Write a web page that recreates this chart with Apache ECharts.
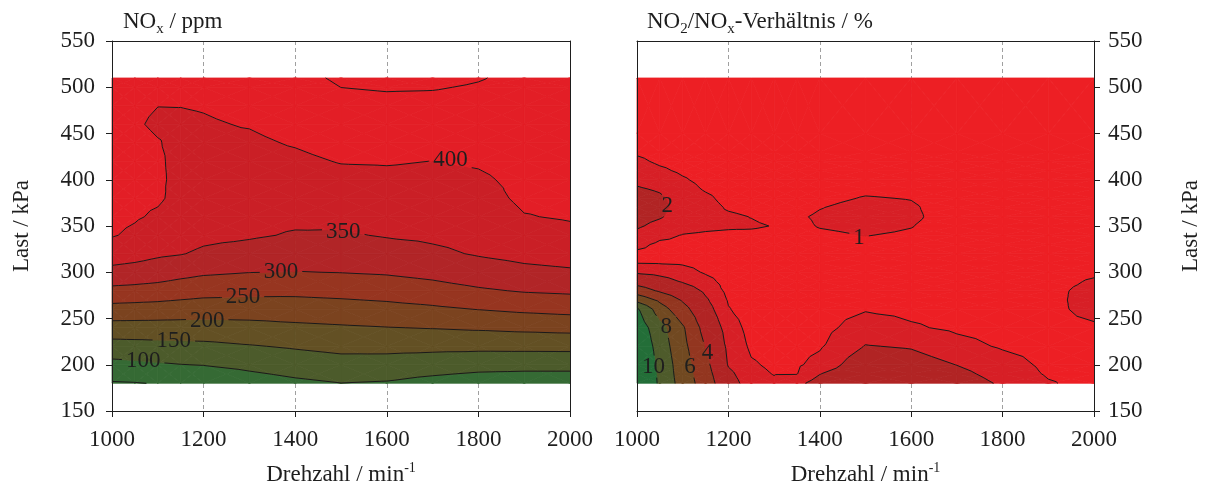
<!DOCTYPE html>
<html>
<head>
<meta charset="utf-8">
<script src="https://cdn.jsdelivr.net/npm/echarts@6.0.0/dist/echarts.min.js"></script>
<style>
html,body{margin:0;padding:0;background:#ffffff;}
#chart{width:1206px;height:488px;}
</style>
</head>
<body>
<div id="chart"></div>
<script>
// ---------------- DATA ----------------
// Left panel: NOx / ppm  (rows = load in kPa, columns = speed in 1/min)
const speedsNOx = [1000,1050,1100,1150,1200,1300,1400,1500,1600,1700,1800,1900,2000];
const loadsNOx  = [180,200,220,240,260,280,300,320,340,360,380,400,420,440,460,480,500,510];
const noxValues = [
  [46,48,52,55,60,77,90.5,99.5,96,84,73.5,70,70],
  [86,90,95,99,101.5,112,123,131.7,130,123.5,117.7,116,116],
  [131,133,135,137,139,147,155,163,164,162.7,162,163,163.7],
  [180,180,180,180,180,184,190,194.5,198.6,202,206.3,211,214.9],
  [233,231,229,226,223,223,225.4,229.5,234.8,242,251.1,259,264.9],
  [287,284,280,273,267,262.5,261.5,265.5,271,280.8,293.6,303.6,308],
  [337,332,325,315,307,300.7,298.7,301,305,314,328.3,339.3,344.5],
  [372,366,357,352,343,333,322.8,323,331,341.7,353.5,362,367.4],
  [403,392,376,368,360,355,346.4,345.5,353,357.4,363.6,379,388],
  [410,404,394.4,381,372,362,359,361,365.6,368,373.7,398,404],
  [415,408,405,389,380,372,370,375,378,378.6,383.8,408,410],
  [418,410,405,392,385,380,381,388,390.6,389,393.9,410,414],
  [420,410,404,392,389,387,392,402,403,399.7,404.3,415,418],
  [420,408,401.5,393,393,394,403,414,415.6,412.8,415,420,422],
  [418,403,396,395,397,402,412,426,428,426,425.6,426,426],
  [416,405,400.3,400.5,402,408,422,438,440.6,439,436,432,430],
  [415,410,405,407,408,413,432,450.2,453,452.3,447,438,434],
  [415,412,408,410,411,415,438,456,459,459,452.2,441,436]
];
const noxLevels = [50,100,150,200,250,300,350,400,450];
const noxColors = ['#356a34','#356a34','#4c5b2b','#635024','#7b431f','#973520','#b12527','#ca1f26','#e31e26','#e31e26'];
const noxLabels = [[1068,204,'100'],[1135,226,'150'],[1208,247,'200'],[1286,273,'250'],[1369,300,'300'],[1505,344,'350'],[1739,421,'400']];

// Right panel: NO2/NOx ratio / %
const speedsRatio = [1000,1050,1100,1150,1200,1250,1300,1350,1400,1500,1600,1700,1800,1900,2000];
const loadsRatio  = [180,190,200,220,240,260,270,280,290,300,310,320,330,340,350,360,370,380,390,400,410,420,430,450,510];
const ratioValues = [
  [13.0,9.6,7.2,5.0,2.6,1.4,1.15,1.7,2.5,3.2,3.0,2.6,1.85,1.08,0.7],
  [12.8,9.5,7.05,4.75,2.3,1.25,0.97,0.98,1.97,3.0,2.8,2.3,1.6,0.9,0.7],
  [12.5,9.4,6.95,4.5,1.9,1.1,0.85,0.88,1.3,2.8,2.55,1.98,1.4,0.8,0.7],
  [12.0,9.1,6.6,3.9,1.7,0.85,0.7,0.75,0.9,2.05,1.9,1.3,0.9,0.7,0.7],
  [11.3,8.7,6.25,3.23,1.45,0.7,0.65,0.65,0.7,1.45,1.1,0.85,0.7,0.7,0.85],
  [10.3,6.94,4.67,2.53,1.05,0.6,0.6,0.6,0.65,0.93,0.8,0.7,0.7,0.75,1.3],
  [7.4,5.6,3.8,2.18,0.92,0.6,0.6,0.6,0.6,0.75,0.7,0.65,0.65,0.75,1.35],
  [5.0,3.76,2.8,1.77,0.75,0.6,0.6,0.6,0.6,0.65,0.6,0.6,0.6,0.75,1.3],
  [3.23,2.55,1.89,1.32,0.65,0.6,0.6,0.6,0.6,0.6,0.6,0.6,0.6,0.7,1.1],
  [1.83,1.62,1.35,0.9,0.6,0.6,0.6,0.6,0.6,0.6,0.6,0.6,0.6,0.65,0.85],
  [0.98,0.95,0.9,0.75,0.6,0.6,0.6,0.6,0.6,0.6,0.6,0.6,0.6,0.6,0.7],
  [0.85,0.8,0.75,0.7,0.6,0.6,0.6,0.6,0.6,0.6,0.6,0.6,0.6,0.6,0.6],
  [1.2,0.85,0.85,0.8,0.7,0.7,0.65,0.6,0.65,0.85,0.75,0.6,0.6,0.6,0.6],
  [1.7,1.19,0.97,0.9,0.85,0.8,0.75,0.7,0.85,1.02,0.9,0.6,0.6,0.6,0.6],
  [2.15,1.67,1.25,1.15,1.1,1.1,0.97,0.8,1.05,1.2,1.03,0.6,0.6,0.6,0.6],
  [2.4,2.1,1.5,1.3,1.15,0.98,0.8,0.9,1.1,1.3,1.15,0.6,0.6,0.6,0.6],
  [2.5,2.25,1.65,1.35,0.9,0.75,0.7,0.75,0.97,1.25,1.1,0.6,0.6,0.6,0.6],
  [2.4,2.15,1.6,1.2,0.7,0.65,0.6,0.65,0.8,1.05,0.97,0.6,0.6,0.6,0.6],
  [2.1,1.89,1.4,0.9,0.65,0.6,0.6,0.6,0.7,0.85,0.8,0.6,0.6,0.6,0.6],
  [1.79,1.52,1.1,0.75,0.6,0.6,0.6,0.6,0.6,0.6,0.6,0.6,0.6,0.6,0.6],
  [1.48,1.15,0.85,0.65,0.6,0.6,0.6,0.6,0.6,0.6,0.6,0.6,0.6,0.6,0.6],
  [1.18,0.85,0.7,0.6,0.6,0.6,0.6,0.6,0.6,0.6,0.6,0.6,0.6,0.6,0.6],
  [0.88,0.7,0.6,0.6,0.6,0.6,0.6,0.6,0.6,0.6,0.6,0.6,0.6,0.6,0.6],
  [0.6,0.6,0.6,0.6,0.6,0.6,0.6,0.6,0.6,0.6,0.6,0.6,0.6,0.6,0.6],
  [0.55,0.55,0.55,0.55,0.55,0.55,0.55,0.55,0.55,0.55,0.55,0.55,0.55,0.55,0.55]
];
const ratioLevels = [1,2,4,6,8,10];
const ratioColors = ['#ed1f24','#d71f26','#b12424','#933620','#714921','#4e5b2b','#236e38'];
const ratioLabels = [[1036,198,'10'],[1064,241,'8'],[1116,198,'6'],[1154,213,'4'],[1066,372,'2'],[1486,337,'1']];

// ---------------- HELPERS ----------------
const FONT = '"Liberation Serif","Times New Roman",serif';
const TXT = '#1e1e1e';
const FS = 23;

function buildCells(speeds, loads, vals){
  const out = [];
  for (let j = 0; j < loads.length - 1; j++) {
    for (let i = 0; i < speeds.length - 1; i++) {
      out.push([speeds[i], loads[j], speeds[i+1], loads[j+1],
                vals[j][i], vals[j][i+1], vals[j+1][i+1], vals[j+1][i]]);
    }
  }
  return out;
}

function clipPoly(poly, t, keepAbove){
  const out = [];
  const n = poly.length;
  for (let i = 0; i < n; i++) {
    const a = poly[i], b = poly[(i+1) % n];
    const ia = keepAbove ? a[2] >= t : a[2] <= t;
    const ib = keepAbove ? b[2] >= t : b[2] <= t;
    if (ia) out.push(a);
    if (ia !== ib) {
      const s = (t - a[2]) / (b[2] - a[2]);
      out.push([a[0] + s*(b[0]-a[0]), a[1] + s*(b[1]-a[1]), t]);
    }
  }
  return out;
}

function cellTris(api){
  const x0 = api.value(0), y0 = api.value(1), x1 = api.value(2), y1 = api.value(3);
  const vs = [api.value(4), api.value(5), api.value(6), api.value(7)];
  const P = [[x0,y0],[x1,y0],[x1,y1],[x0,y1]].map(function(p,k){
    const c = api.coord(p); return [c[0], c[1], vs[k]];
  });
  const C = [(P[0][0]+P[2][0])/2, (P[0][1]+P[2][1])/2, (vs[0]+vs[1]+vs[2]+vs[3])/4];
  const tris = [];
  for (let t = 0; t < 4; t++) tris.push([P[t], P[(t+1)%4], C]);
  return tris;
}

function makeFill(levels, colors){
  return function(params, api){
    const tris = cellTris(api);
    const children = [];
    tris.forEach(function(tri){
      for (let b = 0; b <= levels.length; b++) {
        let poly = tri;
        if (b > 0) poly = clipPoly(poly, levels[b-1], true);
        if (poly.length >= 3 && b < levels.length) poly = clipPoly(poly, levels[b], false);
        if (poly.length >= 3) {
          children.push({type:'polygon', silent:true,
            shape:{points: poly.map(function(p){return [p[0],p[1]];})},
            style:{fill:colors[b], stroke:colors[b], lineWidth:0.8}});
        }
      }
    });
    return {type:'group', children: children};
  };
}

function segBox(p, q, b){
  let t0 = 0, t1 = 1;
  const dx = q[0]-p[0], dy = q[1]-p[1];
  const P = [-dx, dx, -dy, dy];
  const Q = [p[0]-b[0], b[2]-p[0], p[1]-b[1], b[3]-p[1]];
  for (let i = 0; i < 4; i++) {
    if (P[i] === 0) { if (Q[i] < 0) return null; }
    else {
      const r = Q[i] / P[i];
      if (P[i] < 0) { if (r > t1) return null; if (r > t0) t0 = r; }
      else { if (r < t0) return null; if (r < t1) t1 = r; }
    }
  }
  return [t0, t1];
}

function cutSegment(p, q, boxes){
  let intervals = [[0,1]];
  boxes.forEach(function(b){
    const cut = segBox(p, q, b);
    if (!cut) return;
    const next = [];
    intervals.forEach(function(iv){
      if (cut[1] <= iv[0] || cut[0] >= iv[1]) { next.push(iv); return; }
      if (cut[0] > iv[0]) next.push([iv[0], cut[0]]);
      if (cut[1] < iv[1]) next.push([cut[1], iv[1]]);
    });
    intervals = next;
  });
  return intervals.map(function(iv){
    return [[p[0]+iv[0]*(q[0]-p[0]), p[1]+iv[0]*(q[1]-p[1])],
            [p[0]+iv[1]*(q[0]-p[0]), p[1]+iv[1]*(q[1]-p[1])]];
  });
}

function makeLines(levels, labels){
  return function(params, api){
    const boxes = labels.map(function(l){
      const c = api.coord([l[0], l[1]]);
      const hw = String(l[2]).length * FS * 0.25 + 4;
      return [c[0]-hw, c[1]-11, c[0]+hw, c[1]+11];
    });
    const tris = cellTris(api);
    const children = [];
    tris.forEach(function(tri){
      levels.forEach(function(L){
        const pts = [];
        for (let e = 0; e < 3; e++) {
          const a = tri[e], b = tri[(e+1)%3];
          let da = a[2]-L, db = b[2]-L;
          if (da === 0) da = 1e-9;
          if (db === 0) db = 1e-9;
          if (da*db < 0) {
            const s = da/(da-db);
            pts.push([a[0]+s*(b[0]-a[0]), a[1]+s*(b[1]-a[1])]);
          }
        }
        if (pts.length === 2) {
          cutSegment(pts[0], pts[1], boxes).forEach(function(sg){
            children.push({type:'line', silent:true,
              shape:{x1:sg[0][0], y1:sg[0][1], x2:sg[1][0], y2:sg[1][1]},
              style:{stroke:'#1a1a1a', lineWidth:1}});
          });
        }
      });
    });
    return {type:'group', children: children};
  };
}

function renderLabel(params, api){
  const c = api.coord([api.value(0), api.value(1)]);
  return {type:'text', silent:true, x:c[0], y:c[1],
    style:{text: String(api.value(2)), fill:TXT, font:FS + 'px ' + FONT, align:'center', verticalAlign:'middle'}};
}

// ---------------- CHART ----------------
const chart = echarts.init(document.getElementById('chart'), null, {renderer:'canvas', width:1206, height:488});

const tickLabel = {fontFamily:FONT, fontSize:FS, color:TXT, formatter:function(v){return String(v);}};
const axisLineStyle = {color:'#1e1e1e', width:1};
const xName = '{a|Drehzahl / min}{s|-1}';
const xNameStyle = {rich:{
  a:{fontFamily:FONT, fontSize:FS, color:TXT, lineHeight:28, verticalAlign:'middle'},
  s:{fontFamily:FONT, fontSize:14, color:TXT, lineHeight:14, verticalAlign:'top'}
}};
const yNameStyle = {fontFamily:FONT, fontSize:FS, color:TXT};

function mainX(gi){
  return {gridIndex:gi, type:'value', min:1000, max:2000, interval:200, position:'bottom', z:0,
    name:xName, nameLocation:'middle', nameGap:50, nameTextStyle:xNameStyle,
    axisLine:{show:true, onZero:false, lineStyle:axisLineStyle},
    axisTick:{show:true, inside:false, length:6, lineStyle:axisLineStyle},
    axisLabel:Object.assign({show:true, margin:17, showMinLabel:true, showMaxLabel:true}, tickLabel),
    splitLine:{show:true, lineStyle:{color:'#a0a0a0', width:1, type:[4,3]}}};
}
function borderX(gi){
  return {gridIndex:gi, type:'value', min:1000, max:2000, interval:200, position:'top', z:6,
    axisLine:{show:true, onZero:false, lineStyle:axisLineStyle},
    axisTick:{show:false}, axisLabel:{show:false}, splitLine:{show:false}};
}
function mainY(gi, pos){
  return {gridIndex:gi, type:'value', min:150, max:550, interval:50, position:pos, z:6,
    name:'Last / kPa', nameLocation:'middle', nameRotate:90, nameGap: pos==='left' ? 79 : 85, nameTextStyle:yNameStyle,
    axisLine:{show:true, onZero:false, lineStyle:axisLineStyle},
    axisTick:{show:true, inside:false, length:6, lineStyle:axisLineStyle},
    axisLabel:Object.assign({show:true, margin: pos==='left' ? 17 : 14, showMinLabel:true, showMaxLabel:true}, tickLabel),
    splitLine:{show:false}};
}
function borderY(gi, pos){
  return {gridIndex:gi, type:'value', min:150, max:550, interval:50, position:pos, z:6,
    axisLine:{show:true, onZero:false, lineStyle:axisLineStyle},
    axisTick:{show:false}, axisLabel:{show:false}, splitLine:{show:false}};
}

const titleRich = {
  n:{fontFamily:FONT, fontSize:FS, fontWeight:'normal', color:TXT, lineHeight:30, verticalAlign:'middle'},
  s:{fontFamily:FONT, fontSize:15, fontWeight:'normal', color:TXT, lineHeight:15, verticalAlign:'bottom'}
};

const option = {
  animation:false,
  backgroundColor:'#ffffff',
  title:[
    {text:'{n|NO}{s|x}{n| / ppm}', left:123, top:7, padding:0, textStyle:{fontWeight:'normal', rich:titleRich}},
    {text:'{n|NO}{s|2}{n|/NO}{s|x}{n|-Verhältnis / %}', left:647, top:7, padding:0, textStyle:{fontWeight:'normal', rich:titleRich}}
  ],
  grid:[
    {left:112, top:41, width:458, height:370, containLabel:false, outerBoundsMode:'none'},
    {left:637, top:41, width:457, height:370, containLabel:false, outerBoundsMode:'none'}
  ],
  xAxis:[mainX(0), borderX(0), mainX(1), borderX(1)],
  yAxis:[mainY(0,'left'), borderY(0,'right'), mainY(1,'right'), borderY(1,'left')],
  series:[
    {type:'custom', name:'NOx fill', xAxisIndex:0, yAxisIndex:0, z:2, silent:true,
     data:buildCells(speedsNOx, loadsNOx, noxValues), encode:{x:[0,2], y:[1,3]},
     renderItem:makeFill(noxLevels, noxColors)},
    {type:'custom', name:'NOx lines', xAxisIndex:0, yAxisIndex:0, z:3, silent:true,
     data:buildCells(speedsNOx, loadsNOx, noxValues), encode:{x:[0,2], y:[1,3]},
     renderItem:makeLines(noxLevels, noxLabels)},
    {type:'custom', name:'NOx labels', xAxisIndex:0, yAxisIndex:0, z:4, silent:true,
     data:noxLabels, encode:{x:0, y:1}, renderItem:renderLabel},
    {type:'custom', name:'Ratio fill', xAxisIndex:2, yAxisIndex:2, z:2, silent:true,
     data:buildCells(speedsRatio, loadsRatio, ratioValues), encode:{x:[0,2], y:[1,3]},
     renderItem:makeFill(ratioLevels, ratioColors)},
    {type:'custom', name:'Ratio lines', xAxisIndex:2, yAxisIndex:2, z:3, silent:true,
     data:buildCells(speedsRatio, loadsRatio, ratioValues), encode:{x:[0,2], y:[1,3]},
     renderItem:makeLines(ratioLevels, ratioLabels)},
    {type:'custom', name:'Ratio labels', xAxisIndex:2, yAxisIndex:2, z:4, silent:true,
     data:ratioLabels, encode:{x:0, y:1}, renderItem:renderLabel}
  ]
};
chart.setOption(option);
</script>
</body>
</html>
